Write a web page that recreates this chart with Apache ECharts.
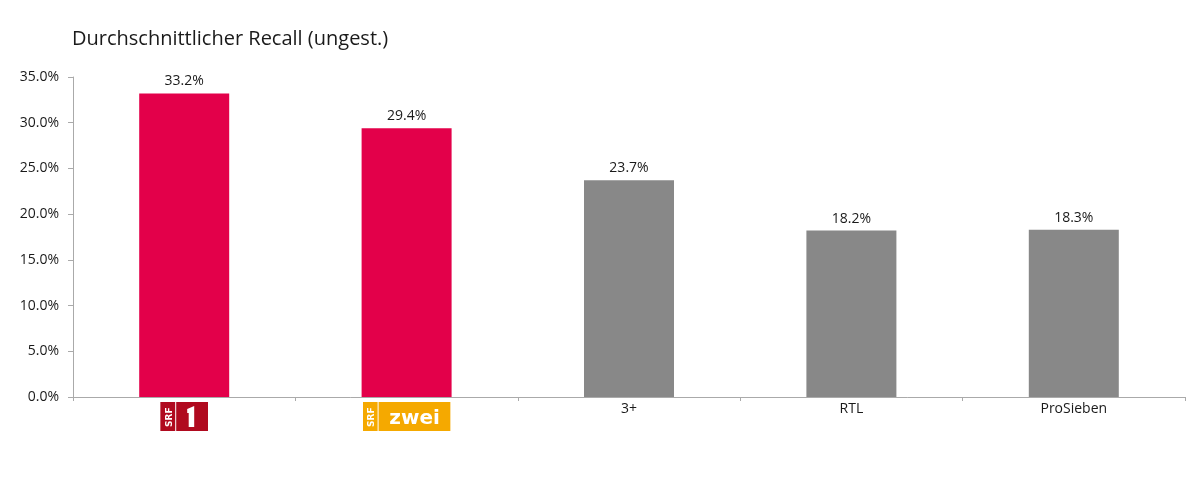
<!DOCTYPE html>
<html><head><meta charset="utf-8">
<script src="https://cdn.jsdelivr.net/npm/echarts@6/dist/echarts.min.js"></script>
<style>html,body{margin:0;padding:0;background:#fff}#c{width:1200px;height:500px}</style>
</head><body><div id="c"></div>
<script>
const title = 'Durchschnittlicher Recall (ungest.)';
const categories = ['SRF 1', 'SRF zwei', '3+', 'RTL', 'ProSieben'];
const values = [33.2, 29.4, 23.7, 18.2, 18.3];
const barColors = ['#e3004a', '#e3004a', '#888888', '#888888', '#888888'];

const srf1Svg = "<svg xmlns='http://www.w3.org/2000/svg' width='48' height='29'>" +
  "<rect x='0' y='0' width='15' height='29' fill='#b00a1f'/>" +
  "<text transform='translate(11.5,25) rotate(-90)' font-family='DejaVu Sans, Arial' font-weight='bold' font-size='9' fill='#fff'>SRF</text>" +
  "<rect x='16' y='0' width='32' height='29' fill='#b00a1f'/>" +
  "<path d='M27 7 L34 4 L34 25 L28.5 25 L28.5 11 L27 11 Z' fill='#fff'/></svg>";
const srf2Svg = "<svg xmlns='http://www.w3.org/2000/svg' width='88' height='29'>" +
  "<rect x='0' y='0' width='15' height='29' fill='#f5a900'/>" +
  "<text transform='translate(11.5,25) rotate(-90)' font-family='DejaVu Sans, Arial' font-weight='bold' font-size='9' fill='#fff'>SRF</text>" +
  "<rect x='16' y='0' width='72' height='29' fill='#f5a900'/>" +
  "<text x='52' y='22' text-anchor='middle' font-family='DejaVu Sans, Arial' font-weight='bold' font-size='20' fill='#fff'>zwei</text></svg>";
const uri = s => 'data:image/svg+xml;charset=utf-8,' + encodeURIComponent(s);

const FONT = '"Open Sans", sans-serif';
const chart = echarts.init(document.getElementById('c'));
chart.setOption({
  animation: false,
  textStyle: { fontFamily: FONT },
  title: {
    text: title, left: 67, top: 24,
    textStyle: { fontSize: 20, fontWeight: 'normal', color: '#1a1a1a', fontFamily: FONT }
  },
  grid: { left: 73, right: 15, top: 77, bottom: 103, containLabel: false },
  xAxis: {
    type: 'category', data: categories,
    axisLine: { lineStyle: { color: '#aaaaaa', width: 1 } },
    axisTick: { show: true, alignWithLabel: false, length: 4, lineStyle: { color: '#aaaaaa' } },
    axisLabel: {
      margin: 5, color: '#1a1a1a', fontSize: 14,
      formatter: v => v === 'SRF 1' ? '{srf1|}' : (v === 'SRF zwei' ? '{srf2|}' : v),
      rich: {
        srf1: { width: 48, height: 29, backgroundColor: { image: uri(srf1Svg) } },
        srf2: { width: 88, height: 29, backgroundColor: { image: uri(srf2Svg) } }
      }
    }
  },
  yAxis: {
    type: 'value', min: 0, max: 35, interval: 5,
    axisLine: { show: true, lineStyle: { color: '#aaaaaa' } },
    axisTick: { show: true, length: 5, lineStyle: { color: '#aaaaaa' } },
    splitLine: { show: false },
    axisLabel: { margin: 14, color: '#1a1a1a', fontSize: 14, formatter: v => v.toFixed(1) + '%' }
  },
  series: [{
    type: 'bar', barWidth: 90,
    data: values.map((v, i) => ({ value: v, itemStyle: { color: barColors[i] } })),
    label: { show: true, position: 'top', distance: 5, color: '#1a1a1a', fontSize: 14, formatter: p => p.value.toFixed(1) + '%' }
  }]
});
</script></body></html>
